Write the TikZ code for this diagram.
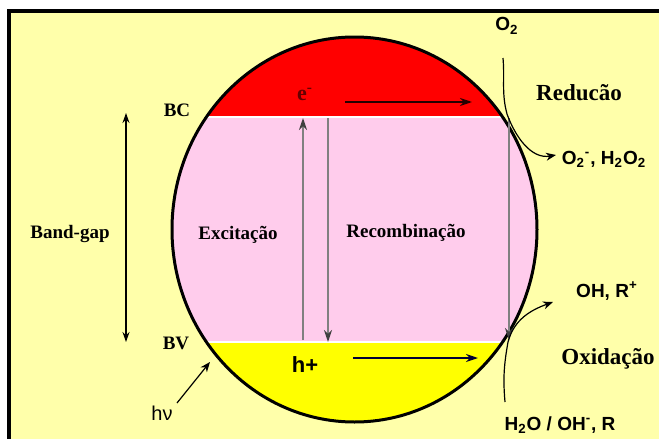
\documentclass[tikz,border=0pt]{standalone}
\usepackage{fontspec}
\setmainfont{Liberation Serif}
\setsansfont{Liberation Sans}
\usetikzlibrary{arrows.meta, positioning}
\definecolor{bgyellow}{RGB}{255,255,170}
\definecolor{gappink}{RGB}{255,204,236}
\definecolor{bvyellow}{RGB}{255,255,0}
\definecolor{bcred}{RGB}{255,0,0}
\tikzset{
  lbl/.style={font=\bfseries\fontsize{9.5}{11}\selectfont, inner sep=0pt, anchor=base},
  biglbl/.style={font=\bfseries\fontsize{11.5}{13}\selectfont, inner sep=0pt, anchor=base},
  chem/.style={font=\sffamily\bfseries\fontsize{9.5}{11}\selectfont, inner sep=0pt, anchor=base},
  garr/.style={gray, line width=0.9pt, -{Stealth[length=6pt, width=4pt, color=black!75]}},
  harr/.style={line width=0.8pt, -{Stealth[length=6pt, width=4pt]}},
  carr/.style={line width=0.6pt, -{Stealth[length=5pt, width=4pt]}},
  darr/.style={line width=0.6pt, {Stealth[length=5pt, width=3.5pt]}-{Stealth[length=5pt, width=3.5pt]}}
}

\begin{document}
\begin{tikzpicture}[x=0.5pt, y=-0.5pt]
  \clip (0,0) rectangle (659,439);
  \fill[white] (0,0) rectangle (659,439);
  \draw[line width=1.6pt, fill=bgyellow] (9,11) rectangle (700,480);

  % bands inside the particle
  \begin{scope}
    \clip (354.5,229.5) ellipse [x radius=182.5, y radius=192.5];
    \fill[bcred]    (160,30)  rectangle (550,116);
    \fill[gappink]  (160,116) rectangle (550,343);
    \fill[bvyellow] (160,343) rectangle (550,430);
    \draw[white, line width=0.8pt] (160,117) -- (550,117);
    \draw[white, line width=0.8pt] (160,342) -- (550,342);
  \end{scope}
  \draw[line width=1.5pt] (354.5,229.5) ellipse [x radius=182.5, y radius=192.5];

  % labels
  \node[lbl] (bc)  at (177,116) {BC};
  \node[lbl] (bv)  at (176,349) {BV};
  \node[lbl] (gap) at (70,238)  {Band-gap};
  \node[lbl] (exc) at (238,239) {Excitação};
  \node[lbl] (rec) at (406,237) {Recombinação};
  \node[lbl, text=red!40!black, font=\bfseries\fontsize{11}{13}\selectfont] (el) at (305,100) {e\textsuperscript{-}};
  \node[chem, font=\sffamily\bfseries\fontsize{11}{13}\selectfont] (hole) at (305,372) {h+};
  \node[biglbl] (red) at (579,100) {Reducão};
  \node[biglbl] (oxi) at (608,364) {Oxidação};
  \node[chem] (o2)   at (507,31)  {O\textsubscript{2}};
  \node[chem] (prodR) at (604,164) {O\textsubscript{2}\textsuperscript{-}, H\textsubscript{2}O\textsubscript{2}};
  \node[chem] (prodO) at (607,297) {OH, R\textsuperscript{+}};
  \node[chem] (reagO) at (560,430) {H\textsubscript{2}O / OH\textsuperscript{-}, R};
  \node[font=\sffamily\fontsize{10}{12}\selectfont, inner sep=0pt, anchor=base] (hv) at (162,420) {hν};

  % end points of the arrows
  \coordinate (gapT) at (126,113);
  \coordinate (gapB) at (126,342);
  \coordinate (excS) at (303,340);
  \coordinate (excE) at (303,118);
  \coordinate (recS) at (328,118);
  \coordinate (recE) at (328,342);
  \coordinate (rimS) at (509,118);
  \coordinate (rimE) at (509,340);
  \coordinate (elS)  at (345,102);
  \coordinate (elE)  at (472,102);
  \coordinate (hoS)  at (353,358);
  \coordinate (hoE)  at (478,358);
  \coordinate (redS) at (503,58);
  \coordinate (redM) at (507,114);
  \coordinate (redE) at (556,155);
  \coordinate (oxiS) at (505,402);
  \coordinate (oxiM) at (508,342);
  \coordinate (oxiE) at (553,302);
  \coordinate (hvS)  at (177,403);
  \coordinate (hvE)  at (210,362);

  \draw[darr] (gapT) -- (gapB);
  \draw[garr] (excS) -- (excE);
  \draw[garr] (recS) -- (recE);
  \draw[garr] (rimS) -- (rimE);
  \draw[harr, red!15!black] (elS) -- (elE);
  \draw[harr, blue!20!black] (hoS) -- (hoE);
  \draw[carr] (redS) to[out=-85, in=105] (redM) to[out=-70, in=190] (redE);
  \draw[carr] (oxiS) to[out=95, in=-100] (oxiM) to[out=75, in=200] (oxiE);
  \draw[carr] (hvS) -- (hvE);
\end{tikzpicture}
\end{document}
